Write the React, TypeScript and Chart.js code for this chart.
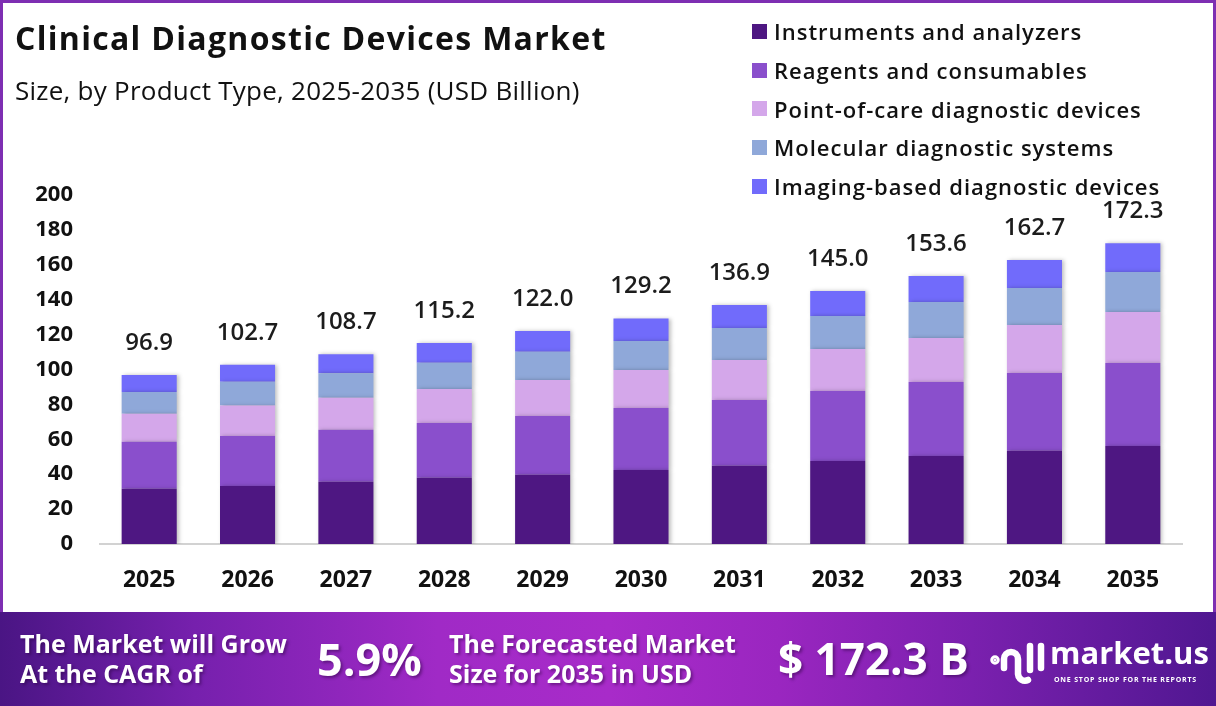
import React, { useEffect, useRef } from "react";
import { Chart, registerables } from "chart.js";

Chart.register(...registerables);

// Market size by product type, USD billion
const years = ["2025", "2026", "2027", "2028", "2029", "2030", "2031", "2032", "2033", "2034", "2035"];
const instruments = [31.7, 33.2, 35.7, 38.0, 39.7, 42.4, 44.9, 47.6, 50.4, 53.5, 56.2];
const reagents = [26.9, 28.7, 29.8, 31.3, 33.7, 35.5, 37.6, 40.1, 42.4, 44.5, 47.5];
const pointOfCare = [16.1, 17.4, 18.3, 19.5, 20.6, 21.8, 22.9, 24.0, 25.3, 27.5, 29.3];
const molecular = [12.4, 13.7, 14.0, 15.1, 16.2, 16.6, 18.4, 19.0, 20.6, 21.2, 22.9];
const imaging = [9.8, 9.7, 10.9, 11.3, 11.8, 12.9, 13.1, 14.3, 14.9, 16.0, 16.4];
const totals = [96.9, 102.7, 108.7, 115.2, 122.0, 129.2, 136.9, 145.0, 153.6, 162.7, 172.3];

const seriesNames = [
  "Instruments and analyzers",
  "Reagents and consumables",
  "Point-of-care diagnostic devices",
  "Molecular diagnostic systems",
  "Imaging-based diagnostic devices",
];
const seriesColors = ["#4e1782", "#8a4fcc", "#d4a7ea", "#8fa8d9", "#716bfb"];
const seriesValues = [instruments, reagents, pointOfCare, molecular, imaging];

const yMin = 0;
const yMax = 200;
const yStep = 20;

const cagr = "5.9%";
const forecast = "$ 172.3 B";

const FONT = "'Open Sans', 'DejaVu Sans', sans-serif";

const barShadow = {
  id: "barShadow",
  beforeDatasetsDraw(chart: any) {
    const c = chart.ctx;
    c.save();
    c.shadowColor = "rgba(0,0,0,0.25)";
    c.shadowBlur = 4;
    c.shadowOffsetX = 2;
    c.shadowOffsetY = 0;
  },
  afterDatasetsDraw(chart: any) {
    chart.ctx.restore();
  },
};

const totalLabels = {
  id: "totalLabels",
  afterDatasetsDraw(chart: any) {
    const c = chart.ctx;
    const top = chart.getDatasetMeta(chart.data.datasets.length - 1);
    c.save();
    c.font = `600 24px ${FONT}`;
    c.fillStyle = "#1c1c1c";
    c.textAlign = "center";
    c.textBaseline = "middle";
    top.data.forEach((bar: any, i: number) => {
      c.fillText(totals[i].toFixed(1), bar.x, bar.y - 32);
    });
    c.restore();
  },
};

function LogoMark() {
  return (
    <svg width="60" height="56" viewBox="0 0 60 56" style={{ position: "absolute", left: 988, top: 22 }}>
      <g fill="none" stroke="#fff" strokeWidth="6.5" strokeLinecap="round">
        <circle cx="7" cy="26" r="1.5" fill="#fff" />
        <path d="M16 34 V25 A7 7 0 0 1 30 25 V40 A7 7 0 0 0 40 46" />
        <path d="M42 12 V36" />
        <path d="M53 12 V34" />
      </g>
    </svg>
  );
}

export default function App() {
  const canvasRef = useRef<HTMLCanvasElement | null>(null);

  useEffect(() => {
    document.body.style.margin = "0";
    const canvas = canvasRef.current;
    if (!canvas) return;
    const yFont = { family: FONT, size: 22, weight: "bold" as const };
    const xFont = { family: FONT, size: 23, weight: "bold" as const };
    const chart = new Chart(canvas, {
      type: "bar",
      data: {
        labels: years,
        datasets: seriesValues.map((vals, i) => ({
          label: seriesNames[i],
          data: vals,
          backgroundColor: seriesColors[i],
          borderWidth: 0,
          barPercentage: 0.56,
          categoryPercentage: 1,
          stack: "total",
        })),
      },
      options: {
        responsive: false,
        animation: false,
        devicePixelRatio: 1,
        layout: { padding: { top: 195, right: 34, left: 0, bottom: 0 } },
        plugins: { legend: { display: false }, tooltip: { enabled: false } },
        scales: {
          x: {
            stacked: true,
            grid: { display: false, drawTicks: false },
            border: { display: true, color: "#d2d2d2", width: 2 },
            ticks: { color: "#111", font: xFont, padding: 23 },
            afterFit(s: any) {
              s.height = 68;
            },
          },
          y: {
            stacked: true,
            min: yMin,
            max: yMax,
            grid: { display: false, drawTicks: false },
            border: { display: false },
            ticks: { stepSize: yStep, color: "#111", font: yFont, padding: 27 },
            afterFit(s: any) {
              s.width = 100;
            },
          },
        },
      },
      plugins: [barShadow, totalLabels],
    });
    return () => chart.destroy();
  }, []);

  const bannerText: React.CSSProperties = {
    position: "absolute",
    color: "#fff",
    fontWeight: 700,
    textShadow: "2px 2px 3px rgba(40,0,60,0.45)",
    whiteSpace: "nowrap",
    lineHeight: 1,
  };

  return (
    <div
      style={{
        position: "absolute",
        left: 0,
        top: 0,
        width: 1216,
        height: 706,
        overflow: "hidden",
        background: "#fff",
        fontFamily: FONT,
      }}
    >
      <canvas
        ref={canvasRef}
        width={1216}
        height={612}
        style={{ position: "absolute", left: 0, top: 0, width: 1216, height: 612 }}
      />
      <div
        style={{
          position: "absolute",
          left: 0,
          top: 0,
          width: 1216,
          height: 612,
          boxSizing: "border-box",
          border: "3px solid #7e2fb2",
          borderBottom: "none",
          pointerEvents: "none",
        }}
      />
      <div
        style={{
          position: "absolute",
          left: 15,
          top: 22,
          fontSize: 32,
          fontWeight: 700,
          letterSpacing: 1.3,
          color: "#111",
          lineHeight: 1,
          whiteSpace: "nowrap",
        }}
      >
        Clinical Diagnostic Devices Market
      </div>
      <div
        style={{
          position: "absolute",
          left: 15,
          top: 77,
          fontSize: 26,
          fontWeight: 400,
          letterSpacing: 0.25,
          color: "#111",
          lineHeight: 1,
          whiteSpace: "nowrap",
        }}
      >
        Size, by Product Type, 2025-2035 (USD Billion)
      </div>
      <div style={{ position: "absolute", left: 752, top: 12 }}>
        {seriesNames.map((name, i) => (
          <div key={name} style={{ display: "flex", alignItems: "center", height: 38.7 }}>
            <div style={{ width: 15, height: 15, background: seriesColors[i], marginRight: 7 }} />
            <div
              style={{
                fontSize: 22,
                fontWeight: 600,
                letterSpacing: 1,
                color: "#111",
                lineHeight: 1,
                whiteSpace: "nowrap",
              }}
            >
              {name}
            </div>
          </div>
        ))}
      </div>
      <div
        style={{
          position: "absolute",
          left: 0,
          top: 612,
          width: 1216,
          height: 94,
          background:
            "linear-gradient(90deg, #4a1584 0%, #7620ad 16%, #a02ac6 36%, #a82bc9 50%, #9a26c0 64%, #7a20ae 80%, #501791 100%)",
        }}
      >
        <div style={{ ...bannerText, left: 20, top: 19, fontSize: 25 }}>The Market will Grow</div>
        <div style={{ ...bannerText, left: 20, top: 49, fontSize: 25 }}>At the CAGR of</div>
        <div style={{ ...bannerText, left: 317, top: 24, fontSize: 45 }}>{cagr}</div>
        <div style={{ ...bannerText, left: 449, top: 19, fontSize: 25 }}>The Forecasted Market</div>
        <div style={{ ...bannerText, left: 449, top: 49, fontSize: 25 }}>Size for 2035 in USD</div>
        <div style={{ ...bannerText, left: 778, top: 24, fontSize: 44 }}>{forecast}</div>
        <LogoMark />
        <div style={{ ...bannerText, left: 1050, top: 25, fontSize: 31, textShadow: "none" }}>market.us</div>
        <div style={{ ...bannerText, left: 1054, top: 64, fontSize: 7, letterSpacing: 0.8, textShadow: "none" }}>
          ONE STOP SHOP FOR THE REPORTS
        </div>
      </div>
    </div>
  );
}
